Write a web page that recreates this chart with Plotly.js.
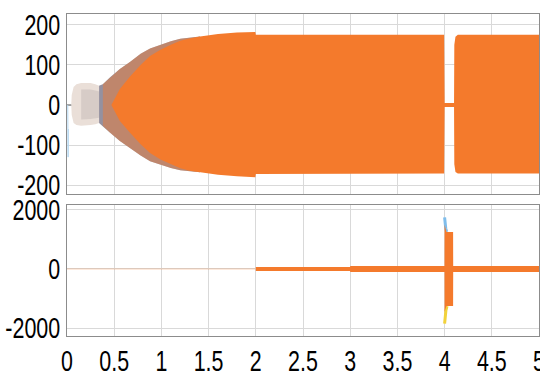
<!DOCTYPE html>
<html>
<head>
<meta charset="utf-8">
<script src="https://cdn.plot.ly/plotly-3.0.1.min.js"></script>
<style>html,body{margin:0;padding:0;background:#fff;}#chart{width:540px;height:374px;}</style>
</head>
<body>
<div id="chart"></div>
<script>
// ---- data (time in s) ----
// outer envelope of the upper signal
var envT  = [0.045, 0.05, 0.07, 0.10, 0.15, 0.25, 0.30, 0.34, 0.38, 0.46, 0.56, 0.67, 0.78, 0.88, 0.99, 1.10, 1.20, 1.41, 1.60, 1.80, 1.995, 2.0, 3.0, 3.995, 4.0, 4.1, 4.103, 4.115, 4.14, 5.0];
var envHi = [0, 25, 45, 52, 55, 55, 52, 48, 52, 70, 90, 108, 128, 141, 151, 159, 165, 171, 177, 181, 182, 175, 175, 175, 5, 5, 150, 170, 175, 175];
var envLo = [0, -25, -45, -50, -52, -50, -48, -45, -52, -70, -90, -108, -126, -140, -149, -157, -163, -168, -174, -178, -180, -172, -172, -171, -5, -5, -148, -167, -171, -171];
// inner (solid orange) envelope during build-up
var innerT  = [0.47, 0.56, 0.67, 0.78, 0.88, 0.99, 1.10, 1.20, 1.30];
var innerHi = [0, 40, 72, 100, 122, 138, 150, 160, 166];
var innerLo = [0, -40, -70, -98, -120, -136, -148, -158, -164];
// initial transient traces
var startT    = [0.0, 0.045];
var startGray = [0, 0];
var blueT  = [0.008, 0.010, 0.012, 0.014];
var blueY  = [0, -40, -130, -60];
// lower signal envelope
var botT  = [2.0, 2.999, 3.0, 3.999, 4.0, 4.02, 4.09, 4.091, 5.0];
var botHi = [70, 70, 100, 100, 1500, 1250, 1250, 100, 100];
var botLo = [-70, -70, -100, -100, -1450, -1250, -1250, -100, -100];
var zeroT = [0, 2.0];
var zeroY = [0, 0];
var tipBlueT = [4.0, 4.004, 4.012, 4.022];
var tipBlueY = [1750, 1550, 1380, 1260];
var tipYelT  = [4.0, 4.004, 4.014, 4.026];
var tipYelY  = [-1850, -1620, -1400, -1260];
// ticks
var xTicks = [0, 0.5, 1, 1.5, 2, 2.5, 3, 3.5, 4, 4.5, 5];
var xTickText = ['0', '0.5', '1', '1.5', '2', '2.5', '3', '3.5', '4', '4.5', '5'];
var y1Ticks = [200, 100, 0, -100, -200];
var y1TickText = ['200', '100', '0', '-100', '-200'];
var y2Ticks = [2000, 0, -2000];
var y2TickText = ['2000', '0', '-2000'];

var ORANGE = '#F47A2C';

function band(t, hi, lo, t0, t1) {
  var xs = [], up = [], dn = [];
  for (var i = 0; i < t.length; i++) {
    if (t[i] >= t0 && t[i] <= t1) { xs.push(t[i]); up.push(hi[i]); dn.push(lo[i]); }
  }
  return { x: xs.concat(xs.slice().reverse()), y: up.concat(dn.slice().reverse()) };
}

function fillTrace(b, color, xa, ya, opacity) {
  return { type: 'scatter', mode: 'lines', x: b.x, y: b.y, fill: 'toself', fillcolor: color,
           line: { width: 0, color: color }, opacity: opacity === undefined ? 1 : opacity,
           xaxis: xa, yaxis: ya, hoverinfo: 'skip', showlegend: false };
}

// solid orange = inner envelope during build-up, then the outer envelope
var solidT = [], solidHi = [], solidLo = [];
innerT.forEach(function (t, i) { solidT.push(t); solidHi.push(innerHi[i]); solidLo.push(innerLo[i]); });
envT.forEach(function (t, i) { if (t >= 1.41) { solidT.push(t); solidHi.push(envHi[i]); solidLo.push(envLo[i]); } });

var traces = [];
// pale bulb
traces.push(fillTrace(band(envT, envHi, envLo, 0.045, 0.46), '#EADFD8', 'x', 'y'));
// grayish centre of the bulb
traces.push(fillTrace(band(envT, envHi.map(function(v){return v*0.7;}), envLo.map(function(v){return v*0.7;}), 0.15, 0.40), '#C9BFBC', 'x', 'y', 0.6));
// gray build-up
traces.push(fillTrace(band(envT, envHi, envLo, 0.34, 1.41), '#9491A0', 'x', 'y'));
// orange streaks over gray
traces.push(fillTrace(band(envT, envHi, envLo, 0.38, 1.41), ORANGE, 'x', 'y', 0.45));
// solid orange
traces.push(fillTrace(band(solidT, solidHi, solidLo, 0, 5), ORANGE, 'x', 'y'));
// start lines
traces.push({ type: 'scatter', mode: 'lines', x: startT, y: startGray, line: { color: '#8A8A8A', width: 1.5 }, xaxis: 'x', yaxis: 'y', showlegend: false, hoverinfo: 'skip' });
traces.push({ type: 'scatter', mode: 'lines', x: blueT, y: blueY, line: { color: '#B5D8F2', width: 1 }, xaxis: 'x', yaxis: 'y', showlegend: false, hoverinfo: 'skip' });

// lower subplot
traces.push({ type: 'scatter', mode: 'lines', x: zeroT, y: zeroY, line: { color: 'rgba(244,122,44,0.22)', width: 1.5 }, xaxis: 'x2', yaxis: 'y2', showlegend: false, hoverinfo: 'skip' });
traces.push({ type: 'scatter', mode: 'lines', x: tipBlueT, y: tipBlueY, line: { color: '#7FBDEB', width: 3 }, xaxis: 'x2', yaxis: 'y2', showlegend: false, hoverinfo: 'skip' });
traces.push({ type: 'scatter', mode: 'lines', x: tipYelT, y: tipYelY, line: { color: '#F2D23A', width: 3 }, xaxis: 'x2', yaxis: 'y2', showlegend: false, hoverinfo: 'skip' });
traces.push(fillTrace(band(botT, botHi, botLo, 2, 5), ORANGE, 'x2', 'y2'));

var FONT = { family: 'Liberation Sans, Arial, sans-serif', size: 29, color: '#000' };
var GRID = '#D9D9D9', LINE = '#8C8C8C';

var layout = {
  width: 540, height: 374,
  margin: { l: 67, r: 1, t: 14, b: 38 },
  paper_bgcolor: '#fff', plot_bgcolor: '#fff',
  font: FONT,
  showlegend: false,
  xaxis: { domain: [0, 1], range: [0, 5], anchor: 'y', tickmode: 'array', tickvals: xTicks, ticktext: xTickText,
           showticklabels: false, showgrid: true, gridcolor: GRID, zeroline: false,
           showline: true, mirror: true, linecolor: LINE, linewidth: 1, ticks: '' },
  yaxis: { domain: [0.441, 1], range: [-222, 227], anchor: 'x', tickmode: 'array', tickvals: y1Ticks, ticktext: y1TickText,
           showgrid: true, gridcolor: GRID, zeroline: false, showline: true, mirror: true, linecolor: LINE, linewidth: 1, ticks: '',
           tickfont: FONT, ticklabelstandoff: 0 },
  xaxis2: { domain: [0, 1], range: [0, 5], anchor: 'y2', matches: 'x', tickmode: 'array', tickvals: xTicks, ticktext: xTickText,
            showgrid: true, gridcolor: GRID, zeroline: false, showline: true, mirror: true, linecolor: LINE, linewidth: 1, ticks: '',
            tickfont: FONT, ticklabelstandoff: 0, ticklabeloverflow: 'allow' },
  yaxis2: { domain: [0, 0.407], range: [-2270, 2170], anchor: 'x2', tickmode: 'array', tickvals: y2Ticks, ticktext: y2TickText,
            showgrid: true, gridcolor: GRID, zeroline: false, showline: true, mirror: true, linecolor: LINE, linewidth: 1, ticks: '',
            tickfont: FONT, ticklabelstandoff: 0, ticklabeloverflow: 'allow' }
};

Plotly.newPlot('chart', traces, layout, { staticPlot: true, displayModeBar: false }).then(function (gd) {
  // the reference uses tall, narrow digits: squeeze tick labels horizontally,
  // keeping x labels centred on their tick and y labels right-aligned
  function squeeze(selector, align, dy) {
    gd.querySelectorAll(selector).forEach(function (el) {
      var b0 = el.getBBox();
      var w = el.getComputedTextLength();
      el.setAttribute('textLength', (w * 0.74).toFixed(1));
      el.setAttribute('lengthAdjust', 'spacingAndGlyphs');
      var b1 = el.getBBox();
      var shift = align === 'center'
        ? (b0.x + b0.width / 2) - (b1.x + b1.width / 2)
        : (b0.x + b0.width) - (b1.x + b1.width);
      el.setAttribute('x', (parseFloat(el.getAttribute('x')) + shift).toFixed(1));
      if (dy) el.setAttribute('y', (parseFloat(el.getAttribute('y')) + dy).toFixed(1));
    });
  }
  squeeze('.xaxislayer-above text', 'center', -1);
  squeeze('.yaxislayer-above text', 'right', 0);
});
</script>
</body>
</html>
